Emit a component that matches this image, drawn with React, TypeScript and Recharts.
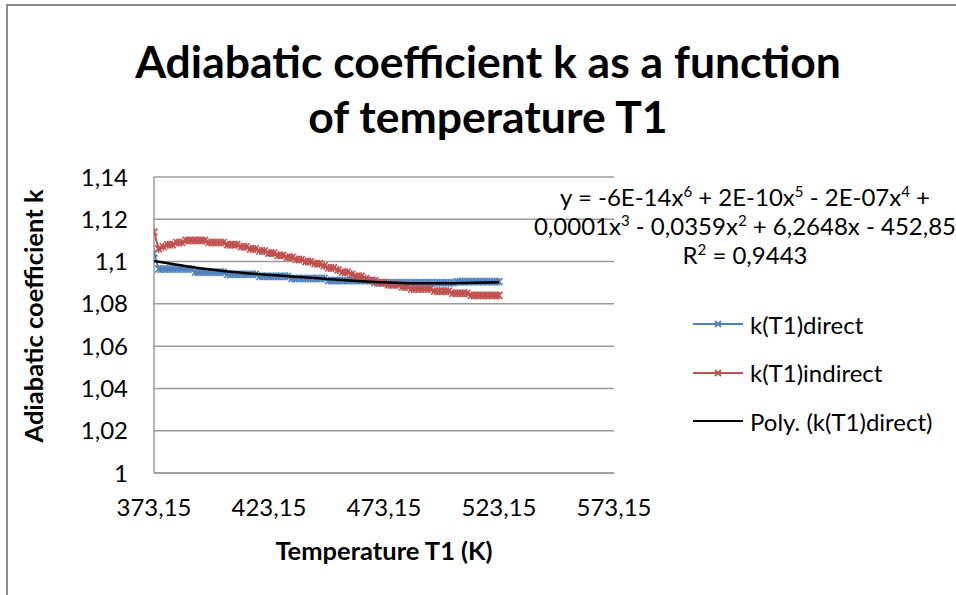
import React from 'react';
import { LineChart, Line, XAxis, YAxis, CartesianGrid, Legend } from 'recharts';

const temperatures = [
  373.15, 375.15, 377.15, 379.15, 381.15, 383.15, 385.15, 387.15, 389.15, 391.15,
  393.15, 395.15, 397.15, 399.15, 401.15, 403.15, 405.15, 407.15, 409.15, 411.15,
  413.15, 415.15, 417.15, 419.15, 421.15, 423.15, 425.15, 427.15, 429.15, 431.15,
  433.15, 435.15, 437.15, 439.15, 441.15, 443.15, 445.15, 447.15, 449.15, 451.15,
  453.15, 455.15, 457.15, 459.15, 461.15, 463.15, 465.15, 467.15, 469.15, 471.15,
  473.15, 475.15, 477.15, 479.15, 481.15, 483.15, 485.15, 487.15, 489.15, 491.15,
  493.15, 495.15, 497.15, 499.15, 501.15, 503.15, 505.15, 507.15, 509.15, 511.15,
  513.15, 515.15, 517.15, 519.15, 521.15, 523.15,
];

const kDirect = [
  1.104, 1.0965, 1.0965, 1.0965, 1.0965, 1.0965, 1.0965, 1.0965, 1.0965, 1.095,
  1.095, 1.095, 1.095, 1.095, 1.095, 1.095, 1.094, 1.094, 1.094, 1.094,
  1.094, 1.094, 1.094, 1.093, 1.093, 1.093, 1.093, 1.093, 1.093, 1.093,
  1.092, 1.092, 1.092, 1.092, 1.092, 1.092, 1.092, 1.092, 1.091, 1.091,
  1.091, 1.091, 1.091, 1.091, 1.091, 1.091, 1.091, 1.091, 1.09, 1.09,
  1.09, 1.09, 1.09, 1.09, 1.09, 1.09, 1.09, 1.09, 1.09, 1.09,
  1.09, 1.09, 1.09, 1.09, 1.09, 1.09, 1.0905, 1.0905, 1.0905, 1.0905,
  1.0905, 1.0905, 1.0905, 1.0905, 1.0905, 1.0905,
];

const kIndirect = [
  1.114, 1.106, 1.107, 1.108, 1.108, 1.109, 1.109, 1.11, 1.11, 1.11,
  1.11, 1.11, 1.109, 1.109, 1.109, 1.109, 1.108, 1.108, 1.108, 1.107,
  1.107, 1.106, 1.106, 1.105, 1.105, 1.104, 1.104, 1.103, 1.103, 1.102,
  1.102, 1.101, 1.101, 1.1, 1.1, 1.099, 1.099, 1.098, 1.097, 1.097,
  1.096, 1.095, 1.095, 1.094, 1.093, 1.093, 1.092, 1.091, 1.091, 1.09,
  1.09, 1.089, 1.089, 1.089, 1.088, 1.088, 1.087, 1.087, 1.087, 1.087,
  1.087, 1.086, 1.086, 1.086, 1.086, 1.085, 1.085, 1.085, 1.085, 1.084,
  1.084, 1.084, 1.084, 1.084, 1.084, 1.084,
];

const polyTemperatures = [
  373.15, 383.15, 393.15, 403.15, 413.15, 423.15, 433.15, 443.15,
  453.15, 463.15, 473.15, 483.15, 493.15, 503.15, 513.15, 523.15,
];
const polyDirect = [
  1.1003, 1.0985, 1.0968, 1.0955, 1.0945, 1.0937, 1.0929, 1.0922,
  1.0914, 1.0907, 1.0902, 1.0898, 1.0897, 1.0898, 1.09, 1.0902,
];

const xTicks = [373.15, 423.15, 473.15, 523.15, 573.15];
const yTicks = [1, 1.02, 1.04, 1.06, 1.08, 1.1, 1.12, 1.14];

const titleLines = ['Adiabatic coefficient k as a function', 'of temperature T1'];
const xTitle = 'Temperature T1 (K)';
const yTitle = 'Adiabatic coefficient k';
const seriesNames = ['k(T1)direct', 'k(T1)indirect', 'Poly. (k(T1)direct)'];

const BLUE = '#4F81BD';
const RED = '#C0504D';
const GRID = '#9a9a9a';
const FONT = 'Lato, "Open Sans", sans-serif';

const X_DOMAIN: [number, number] = [373.15, 573.15];
const Y_DOMAIN: [number, number] = [1, 1.14];

const directData = temperatures.map((t, i) => ({ t, k: kDirect[i] }));
const indirectData = temperatures.map((t, i) => ({ t, k: kIndirect[i] }));
const polyData = polyTemperatures.map((t, i) => ({ t, k: polyDirect[i] }));

const fmt = (v: number) => String(Number(v.toFixed(2))).replace('.', ',');

const makeStar = (color: string) => (props: any) => {
  const { cx, cy, index } = props;
  if (cx == null || cy == null) return <g key={`n${index}`} />;
  const r = 3.5;
  return (
    <path
      key={`s${index}`}
      d={`M${cx - r},${cy - r}L${cx + r},${cy + r}M${cx - r},${cy + r}L${cx + r},${cy - r}M${cx},${cy - r - 0.5}L${cx},${cy + r + 0.5}`}
      stroke={color}
      strokeWidth={1.6}
      fill="none"
    />
  );
};

const LegendContent = () => {
  const colors = [BLUE, RED, '#000'];
  return (
    <div style={{ fontFamily: FONT, fontSize: 24, color: '#000' }}>
      {seriesNames.map((n, i) => (
        <div key={n} style={{ display: 'flex', alignItems: 'center', height: 48.5 }}>
          <svg width={58} height={20} style={{ display: 'block' }}>
            <line x1={1} y1={10} x2={51} y2={10} stroke={colors[i]} strokeWidth={2} />
            {i < 2 && (
              <path d="M23,7L29,13M23,13L29,7" stroke={colors[i]} strokeWidth={1.8} />
            )}
          </svg>
          <span style={{ whiteSpace: 'nowrap' }}>{n}</span>
        </div>
      ))}
    </div>
  );
};

const sup = { fontSize: 15, lineHeight: 0 } as const;

export default function App() {
  return (
    <div
      style={{
        position: 'absolute',
        left: 0,
        top: 0,
        width: 956,
        height: 595,
        overflow: 'hidden',
        background: '#fff',
        fontFamily: FONT,
        color: '#000',
      }}
    >
      <div
        style={{
          position: 'absolute',
          left: 6,
          top: 4,
          width: 1200,
          height: 900,
          borderLeft: '2px solid #8c8c8c',
          borderTop: '2px solid #8c8c8c',
        }}
      />
      <div style={{ position: 'absolute', left: 0, top: 0 }}>
        <LineChart
          width={956}
          height={595}
          margin={{ top: 177, right: 342, bottom: 92, left: 0 }}
        >
          <CartesianGrid vertical={false} stroke={GRID} strokeWidth={1.5} />
          <XAxis
            dataKey="t"
            type="number"
            domain={X_DOMAIN}
            ticks={xTicks}
            tickFormatter={(v: number) => v.toFixed(2).replace('.', ',')}
            allowDataOverflow
            height={30}
            tickLine={false}
            tickSize={0}
            tickMargin={26}
            axisLine={{ stroke: GRID, strokeWidth: 1.5 }}
            tick={{ fill: '#000', fontSize: 24, fontFamily: FONT }}
            interval={0}
          />
          <YAxis
            dataKey="k"
            type="number"
            domain={Y_DOMAIN}
            ticks={yTicks}
            tickFormatter={fmt}
            allowDataOverflow
            width={154}
            tickLine={false}
            tickSize={0}
            tickMargin={26}
            axisLine={{ stroke: GRID, strokeWidth: 1.5 }}
            tick={{ fill: '#000', fontSize: 24, fontFamily: FONT }}
            interval={0}
          />
          <Line
            data={directData}
            dataKey="k"
            name={seriesNames[0]}
            stroke={BLUE}
            strokeWidth={2}
            dot={makeStar(BLUE)}
            activeDot={false}
            isAnimationActive={false}
          />
          <Line
            data={indirectData}
            dataKey="k"
            name={seriesNames[1]}
            stroke={RED}
            strokeWidth={2}
            dot={makeStar(RED)}
            activeDot={false}
            isAnimationActive={false}
          />
          <Legend
            layout="vertical"
            verticalAlign="middle"
            align="center"
            wrapperStyle={{ position: 'absolute', left: 692, top: 300, width: 264 }}
            content={LegendContent}
          />
        </LineChart>
      </div>

      {/* trendline layer, drawn above the markers with the same scales */}
      <div style={{ position: 'absolute', left: 0, top: 0, pointerEvents: 'none' }}>
        <LineChart
          width={956}
          height={595}
          margin={{ top: 177, right: 342, bottom: 122, left: 154 }}
        >
          <XAxis dataKey="t" type="number" domain={X_DOMAIN} allowDataOverflow hide />
          <YAxis dataKey="k" type="number" domain={Y_DOMAIN} allowDataOverflow hide />
          <Line
            data={polyData}
            dataKey="k"
            name={seriesNames[2]}
            type="monotone"
            stroke="#000"
            strokeWidth={2.5}
            dot={false}
            activeDot={false}
            isAnimationActive={false}
          />
        </LineChart>
      </div>

      <div
        style={{
          position: 'absolute',
          left: 10,
          top: 33,
          width: 956,
          textAlign: 'center',
          fontWeight: 700,
          fontSize: 44.5,
          lineHeight: '55px',
        }}
      >
        {titleLines.map((l) => (
          <div key={l}>{l}</div>
        ))}
      </div>

      <div
        style={{
          position: 'absolute',
          left: 525,
          top: 182,
          width: 440,
          textAlign: 'center',
          fontSize: 24,
          lineHeight: '29px',
        }}
      >
        <div>
          y = -6E-14x<sup style={sup}>6</sup> + 2E-10x<sup style={sup}>5</sup> - 2E-07x
          <sup style={sup}>4</sup> +
        </div>
        <div>
          0,0001x<sup style={sup}>3</sup> - 0,0359x<sup style={sup}>2</sup> + 6,2648x - 452,85
        </div>
        <div>
          R<sup style={sup}>2</sup> = 0,9443
        </div>
      </div>

      <div
        style={{
          position: 'absolute',
          left: 234,
          top: 535,
          width: 300,
          textAlign: 'center',
          fontWeight: 700,
          fontSize: 25.5,
          lineHeight: '30px',
        }}
      >
        {xTitle}
      </div>

      <div
        style={{
          position: 'absolute',
          left: 33 - 160,
          top: 316 - 15,
          width: 320,
          textAlign: 'center',
          fontWeight: 700,
          fontSize: 25.5,
          lineHeight: '30px',
          transform: 'rotate(-90deg)',
          transformOrigin: '160px 15px',
        }}
      >
        {yTitle}
      </div>
    </div>
  );
}
